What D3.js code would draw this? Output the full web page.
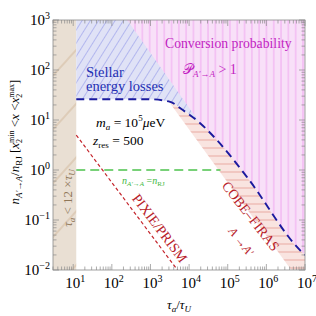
<!DOCTYPE html>
<html>
<head>
<meta charset="utf-8">
<script src="https://cdn.jsdelivr.net/npm/d3@7"></script>
<style>
  html, body { margin: 0; padding: 0; background: #fff; }
  svg { display: block; }
  svg text { font-family: "Liberation Serif", "Times New Roman", Tinos, "DejaVu Serif", serif; }
</style>
</head>
<body>
<svg id="chart" width="316" height="316"></svg>
<script>
// axis limits and tick decades
var xDomain = [3, 1e7];
var yDomain = [1e-2, 1e3];
var xDecades = [1, 2, 3, 4, 5, 6, 7];
var yDecades = [-2, -1, 0, 1, 2, 3];

// tau_a < 12 tau_U band
var bandLimit = 12;

// stellar energy losses bound (blue dashed)
var stellarX = [12, 980, 3240, 6900, 19000, 52000, 316000, 7.4e6, 1e7];
var stellarY = [26, 26, 23, 15.8, 8.7, 4.0, 0.72, 0.025, 0.02];

// edge of the conversion probability > 1 region
var conversionX = [250, 19000];
var conversionY = [1000, 8.7];

// COBE-FIRAS lower edge
var firasX = [2700, 4.4e6];
var firasY = [26, 0.01];

// PIXIE/PRISM sensitivity (red dashed)
var pixieX = [12, 5000];
var pixieY = [5, 0.01];

// n = n_RJ (green dashed)
var rjX = [12, 65000];
var rjY = [1, 1];

var LEFT = 53, RIGHT = 305, TOP = 20, BOTTOM = 270;

var svg = d3.select("#chart");
var x = d3.scaleLog().domain(xDomain).range([LEFT, RIGHT]);
var y = d3.scaleLog().domain(yDomain).range([BOTTOM, TOP]);

var defs = svg.append("defs");

function hatch(id, bg, stroke, size, angle, width) {
    var p = defs.append("pattern")
        .attr("id", id)
        .attr("patternUnits", "userSpaceOnUse")
        .attr("width", size).attr("height", size)
        .attr("patternTransform", "rotate(" + angle + ")");
    p.append("rect").attr("width", size).attr("height", size).attr("fill", bg);
    p.append("line")
        .attr("x1", size / 2).attr("x2", size / 2)
        .attr("y1", 0).attr("y2", size)
        .attr("stroke", stroke).attr("stroke-width", width);
}
hatch("tanHatch", "#e9dfd3", "#cfb596", 36, 42, 0.9);
hatch("blueHatch", "#e0e2f6", "#a7acec", 7, 32, 0.8);
hatch("pinkHatch", "#f8e0f8", "#ee9cee", 7.3, 0, 0.8);
hatch("salmonHatch", "#f9e4e0", "#e9aaa3", 8, 90, 1);

defs.append("clipPath").attr("id", "plotClip")
    .append("rect").attr("x", LEFT).attr("y", TOP)
    .attr("width", RIGHT - LEFT).attr("height", BOTTOM - TOP);

var stellar = stellarX.map(function (d, i) { return [d, stellarY[i]]; });

var above = d3.area().curve(d3.curveMonotoneX)
    .x(function (d) { return x(d[0]); })
    .y0(TOP)
    .y1(function (d) { return y(d[1]); });
var below = d3.area().curve(d3.curveMonotoneX)
    .x(function (d) { return x(d[0]); })
    .y0(BOTTOM)
    .y1(function (d) { return y(d[1]); });

defs.append("clipPath").attr("id", "aboveClip")
    .append("path").attr("d", above(stellar));
defs.append("clipPath").attr("id", "belowClip")
    .append("path").attr("d", below(stellar));

var plot = svg.append("g").attr("clip-path", "url(#plotClip)");

// tan band
plot.append("rect")
    .attr("x", LEFT).attr("y", TOP)
    .attr("width", x(bandLimit) - LEFT).attr("height", BOTTOM - TOP)
    .attr("fill", "url(#tanHatch)");

// stellar region
plot.append("path").attr("d", above(stellar)).attr("fill", "url(#blueHatch)");

function poly(pts) {
    return "M" + pts.map(function (p) { return x(p[0]) + "," + y(p[1]); }).join("L") + "Z";
}

// conversion probability > 1
plot.append("g").attr("clip-path", "url(#aboveClip)")
    .append("path")
    .attr("d", poly([
        [conversionX[0], conversionY[0]], [xDomain[1], yDomain[1]],
        [xDomain[1], yDomain[0]], [conversionX[1], yDomain[0]],
        [conversionX[1], conversionY[1]]
    ]))
    .attr("fill", "url(#pinkHatch)");

// COBE-FIRAS
plot.append("g").attr("clip-path", "url(#belowClip)")
    .append("path")
    .attr("d", poly([
        [firasX[0], firasY[0]], [firasX[0], yDomain[1]],
        [xDomain[1], yDomain[1]], [xDomain[1], yDomain[0]],
        [firasX[1], firasY[1]]
    ]))
    .attr("fill", "url(#salmonHatch)");

var line = d3.line()
    .x(function (d) { return x(d[0]); })
    .y(function (d) { return y(d[1]); });

function zip(a, b) { return a.map(function (d, i) { return [d, b[i]]; }); }

plot.append("path").attr("d", line(zip(rjX, rjY)))
    .attr("fill", "none").attr("stroke", "#4cc24c")
    .attr("stroke-width", 1.4).attr("stroke-dasharray", "9,5");

plot.append("path").attr("d", line(zip(pixieX, pixieY)))
    .attr("fill", "none").attr("stroke", "#c4242b")
    .attr("stroke-width", 1.2).attr("stroke-dasharray", "3.5,2.5");

plot.append("path").attr("d", line.curve(d3.curveMonotoneX)(stellar))
    .attr("fill", "none").attr("stroke", "#1a1a9e")
    .attr("stroke-width", 1.9).attr("stroke-dasharray", "8,5");

// frame and ticks
var frameColor = "#8a8a8a";
svg.append("rect")
    .attr("x", LEFT).attr("y", TOP)
    .attr("width", RIGHT - LEFT).attr("height", BOTTOM - TOP)
    .attr("fill", "none").attr("stroke", frameColor).attr("stroke-width", 0.8);

function logTicks(domain) {
    var major = [], minor = [];
    var lo = Math.floor(Math.log10(domain[0])), hi = Math.ceil(Math.log10(domain[1]));
    for (var e = lo; e <= hi; e++) {
        for (var m = 1; m < 10; m++) {
            var v = m * Math.pow(10, e);
            if (v < domain[0] * 0.999 || v > domain[1] * 1.001) continue;
            (m === 1 ? major : minor).push(v);
        }
    }
    return { major: major, minor: minor };
}

var xt = logTicks(xDomain), yt = logTicks(yDomain);
var ticks = svg.append("g").attr("stroke", frameColor).attr("stroke-width", 0.7);
function tickSet(vals, len) {
    vals.forEach(function (v) {
        var px = x(v);
        ticks.append("line").attr("x1", px).attr("x2", px).attr("y1", BOTTOM).attr("y2", BOTTOM - len);
        ticks.append("line").attr("x1", px).attr("x2", px).attr("y1", TOP).attr("y2", TOP + len);
    });
}
function ytickSet(vals, len) {
    vals.forEach(function (v) {
        var py = y(v);
        ticks.append("line").attr("y1", py).attr("y2", py).attr("x1", LEFT).attr("x2", LEFT + len);
        ticks.append("line").attr("y1", py).attr("y2", py).attr("x1", RIGHT).attr("x2", RIGHT - len);
    });
}
tickSet(xt.major, 6); tickSet(xt.minor, 3.5);
ytickSet(yt.major, 6); ytickSet(yt.minor, 3.5);

// rich text helper: segments laid out one after another
function rich(px, py, angle, segs, opt) {
    var g = svg.append("g").attr("transform", "translate(" + px + "," + py + ") rotate(" + angle + ")");
    var t = g.append("text")
        .attr("font-size", opt.size).attr("fill", opt.color || "#000");
    var cx = 0, start = 0;
    segs.forEach(function (s) {
        if (typeof s === "string") s = { t: s };
        var st = s.back ? start : cx;
        var ts = t.append("tspan").text(s.t)
            .attr("x", st).attr("y", s.dy || 0)
            .attr("font-size", s.sz || opt.size)
            .attr("font-style", s.it ? "italic" : "normal");
        var w = ts.node().getComputedTextLength();
        start = st;
        cx = Math.max(cx, st + w);
    });
    var shift = opt.anchor === "middle" ? -cx / 2 : opt.anchor === "end" ? -cx : 0;
    t.attr("transform", "translate(" + shift + ",0)");
    return g;
}

function pow10(e) {
    return ["10", { t: e < 0 ? "\u2212" + (-e) : String(e), sz: 10, dy: -6 }];
}

xDecades.forEach(function (e) {
    rich(x(Math.pow(10, e)) + 2, 288, 0, pow10(e), { size: 15, anchor: "middle" });
});
yDecades.forEach(function (e) {
    rich(50, y(Math.pow(10, e)) + 5, 0, pow10(e), { size: 15, anchor: "end" });
});

// axis labels
rich(179, 309, 0, [
    { t: "\u03c4", it: true }, { t: "a", it: true, sz: 9, dy: 3 },
    "/", { t: "\u03c4", it: true }, { t: "U", it: true, sz: 9, dy: 3 }
], { size: 13, anchor: "middle" });

rich(19, 142, -90, [
    { t: "n", it: true }, { t: "A\u2032\u2192A", it: true, sz: 9, dy: 3 },
    "/", { t: "n", it: true }, { t: "RJ", sz: 9, dy: 3 },
    "  [", { t: "x", it: true }, { t: "min", sz: 8, dy: -5 }, { t: "2", sz: 8, dy: 3, back: true },
    " < ", { t: "x", it: true }, " < ",
    { t: "x", it: true }, { t: "max", sz: 8, dy: -5 }, { t: "2", sz: 8, dy: 3, back: true }, "]"
], { size: 13, anchor: "middle" });

// region annotations
var blue = "#2530b4", magenta = "#c21fc2", red = "#b8222a", brown = "#8f7657";
rich(86, 77, 0, ["Stellar"], { size: 14.5, color: blue });
rich(86, 91, 0, ["energy losses"], { size: 14.5, color: blue });

rich(165, 48, 0, ["Conversion probability"], { size: 13.7, color: magenta });
rich(183, 74, 0, [
    { t: "\ud835\udcab" }, { t: "A\u2032\u2192A", it: true, sz: 9, dy: 3 }, " > 1"
], { size: 14, color: magenta });

rich(96, 127, 0, [
    { t: "m", it: true }, { t: "a", it: true, sz: 9, dy: 3 }, " = 10",
    { t: "5", sz: 9, dy: -6 }, " ", { t: "\u03bc", it: true }, "eV"
], { size: 13.5 });
rich(93, 145, 0, [
    { t: "z", it: true }, { t: "res", sz: 9, dy: 3 }, " = 500"
], { size: 13.5 });

rich(122, 184, 0, [
    { t: "n", it: true }, { t: "A\u2032\u2192A", it: true, sz: 7, dy: 2 }, " = ",
    { t: "n", it: true }, { t: "RJ", sz: 7, dy: 2 }
], { size: 10, color: "#3fb83f" });

rich(72, 198, -90, [
    { t: "\u03c4", it: true }, { t: "a", it: true, sz: 9, dy: 3 }, " < 12 \u00d7 ",
    { t: "\u03c4", it: true }, { t: "U", it: true, sz: 9, dy: 3 }
], { size: 13, color: brown, anchor: "middle" });

rich(156, 231, 53, ["PIXIE/PRISM"], { size: 14, color: red, anchor: "middle" });
rich(247, 219, 52, ["COBE\u2013FIRAS"], { size: 14, color: red, anchor: "middle" });
rich(238, 244, 52, [
    { t: "A", it: true }, " \u2192 ", { t: "A\u2032", it: true }
], { size: 12, color: red, anchor: "middle" });
</script>
</body>
</html>
